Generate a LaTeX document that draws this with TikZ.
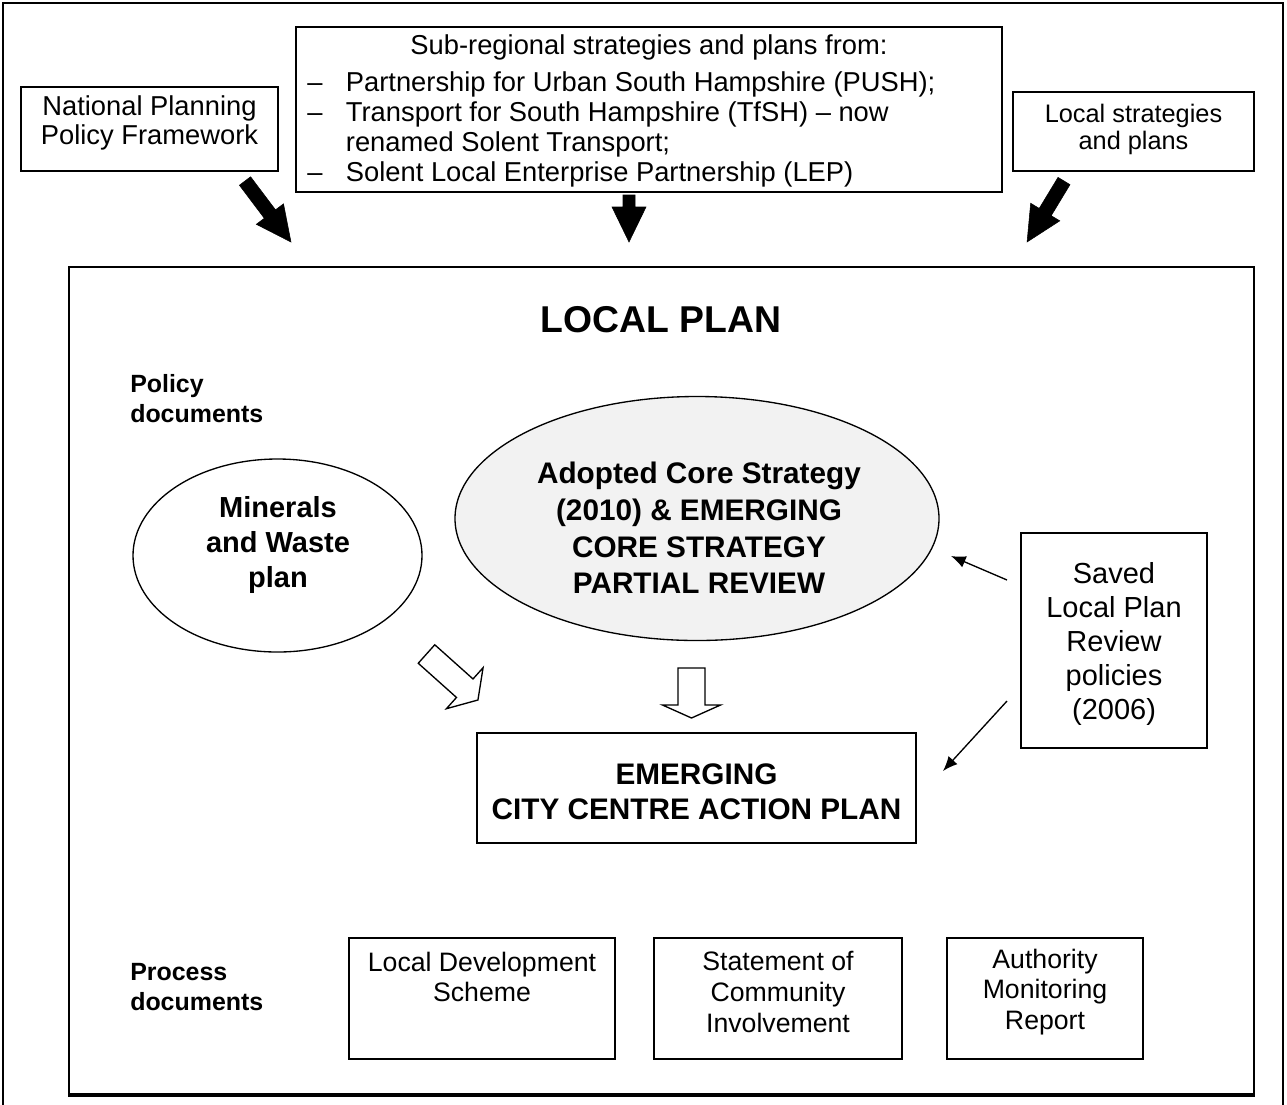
\documentclass[tikz,border=0pt]{standalone}
\usepackage{fontspec}
\setmainfont{Liberation Sans}
\usetikzlibrary{shapes.geometric,arrows.meta,fit}
\newcommand\blockarr[7]{%
  \begin{scope}[shift={(#2)},rotate=#3]
  \draw[#1] (0,-#5) -- ({#4-#7},-#5) -- ({#4-#7},-#6) -- (#4,0) -- ({#4-#7},#6) -- ({#4-#7},#5) -- (0,#5) -- cycle;
  \end{scope}}
\begin{document}
\begin{tikzpicture}[x=0.75pt,y=-0.75pt,
  box/.style={draw, line width=1pt, inner sep=0pt},
  txt/.style={align=center, inner sep=0pt},
  thinarrow/.style={line width=1pt, -{Latex[length=11pt,width=9pt]}},
  solidarrow/.style={fill=black},
  hollowarrow/.style={draw, fill=white, line width=1pt}]
\useasboundingbox (0,0) rectangle (1287,1104);
\clip (0,0) rectangle (1287,1104);
% outer frame
\draw[line width=1pt] (3,1120) -- (3,3) -- (1283,3) -- (1283,1120);

% top boxes
\node[box, fit={(21,87)(278,171)}] (nppf) {};
\node[txt, font=\fontsize{20.5}{22}\selectfont] (nppft) at (149.5,123) {National Planning\\Policy Framework};

\node[box, fit={(296,27)(1002,192)}] (sub) {};
\node[txt, font=\fontsize{20.5}{22.5}\selectfont] (subt) at (649,47) {Sub-regional strategies and plans from:};
\node[txt, align=left, anchor=west, font=\fontsize{20.5}{22.5}\selectfont] (subl) at (307,129)
 {\makebox[29pt][l]{–}Partnership for Urban South Hampshire (PUSH);\\
  \makebox[29pt][l]{–}Transport for South Hampshire (TfSH) – now\\
  \makebox[29pt][l]{}renamed Solent Transport;\\
  \makebox[29pt][l]{–}Solent Local Enterprise Partnership (LEP)};

\node[box, fit={(1013,92)(1254,171)}] (loc) {};
\node[txt, font=\fontsize{19}{20.3}\selectfont] (loct) at (1133.5,129) {Local strategies\\and plans};

% solid arrows
\blockarr{solidarrow}{245,181}{-53}{76.4}{7}{17}{35}
\blockarr{solidarrow}{629,195}{-90}{47}{6}{17}{35}
\blockarr{solidarrow}{1064,181}{-121.2}{71.3}{7}{17}{35}

% local plan box
\node[box, fit={(69,267)(1254,1094)}] (lp) {};
\draw[line width=1.2pt] ([yshift=-1pt]lp.south west) -- ([yshift=-1pt]lp.south east);
\node[txt, font=\bfseries\fontsize{28}{30}\selectfont] (lpt) at (661,320) {LOCAL PLAN};

\node[txt, align=left, anchor=west, font=\bfseries\fontsize{18.7}{22.5}\selectfont] (pol) at (130,399) {Policy\\documents};
\node[txt, align=left, anchor=west, font=\bfseries\fontsize{18.7}{22}\selectfont] (proc) at (130,987) {Process\\documents};

% ellipses
\node[draw, ellipse, line width=1pt, minimum width=216.75pt, minimum height=144.75pt, inner sep=0pt] (mw) at (277.5,555.5) {};
\node[txt, font=\bfseries\fontsize{21.75}{26}\selectfont] (mwt) at (278,545) {Minerals\\and Waste\\plan};

\node[draw, ellipse, line width=1pt, fill={rgb,255:red,242;green,242;blue,242}, minimum width=363pt, minimum height=183pt, inner sep=0pt] (cs) at (697,518.5) {};
\node[txt, font=\bfseries\fontsize{22.3}{27.5}\selectfont] (cst) at (699,528) {Adopted Core Strategy\\(2010) \& EMERGING\\CORE STRATEGY\\PARTIAL REVIEW};

% hollow arrows
\blockarr{hollowarrow}{426.5,654}{-41.8}{69}{12.4}{27.5}{17.7}
\blockarr{hollowarrow}{691.5,668}{-90}{50}{13.5}{29}{13}

% emerging box
\node[box, fit={(477,733)(916,843)}] (cc) {};
\node[txt, font=\bfseries\fontsize{22.3}{26.5}\selectfont] (cct) at (696.5,792) {EMERGING\\CITY CENTRE ACTION PLAN};

% saved box
\node[box, fit={(1021,533)(1207,748)}] (sv) {};
\node[txt, font=\fontsize{21.75}{25.5}\selectfont] (svt) at (1114,644) {Saved\\Local Plan\\Review\\policies\\(2006)};

\coordinate (a1s) at (1007,580);
\coordinate (a1e) at (951,556);
\coordinate (a2s) at (1007,701);
\coordinate (a2e) at (943,771);
\draw[thinarrow] (a1s) -- (a1e);
\draw[thinarrow] (a2s) -- (a2e);

% process boxes
\node[box, fit={(349,938)(615,1059)}] (lds) {};
\node[txt, font=\fontsize{20}{23}\selectfont] (ldst) at (482,977) {Local Development\\Scheme};
\node[box, fit={(654,938)(902,1059)}] (sci) {};
\node[txt, font=\fontsize{20}{23}\selectfont] (scit) at (778,992) {Statement of\\Community\\Involvement};
\node[box, fit={(947,938)(1143,1059)}] (amr) {};
\node[txt, font=\fontsize{20}{23}\selectfont] (amrt) at (1045,992) {Authority\\Monitoring\\Report};
\end{tikzpicture}
\end{document}
